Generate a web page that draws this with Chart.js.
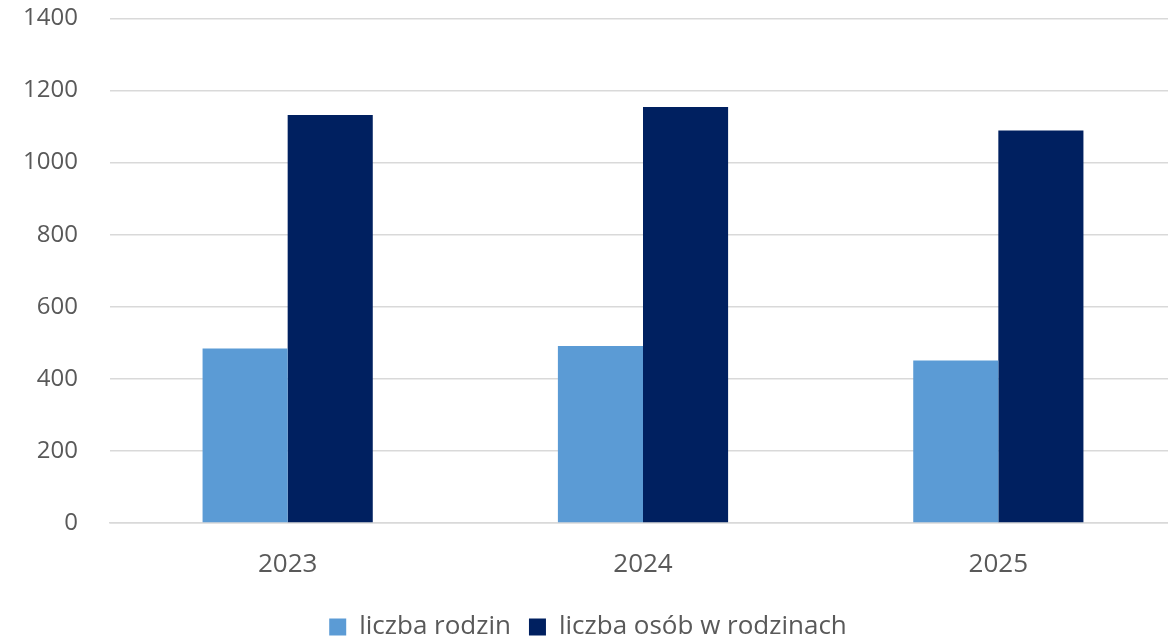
<!DOCTYPE html>
<html>
<head>
<meta charset="utf-8">
<script src="https://cdn.jsdelivr.net/npm/chart.js@4/dist/chart.umd.min.js"></script>
<style>
  html, body { margin: 0; padding: 0; background: #fff; overflow: hidden; }
  #wrap { position: relative; width: 1176px; height: 641px; }
</style>
</head>
<body>
<div id="wrap"><canvas id="chart"></canvas></div>
<script>
const years = ['2023', '2024', '2025'];
const families = [484, 491, 451];
const persons = [1132, 1154, 1089];
const yTicks = [0, 200, 400, 600, 800, 1000, 1200, 1400];

const fontFamily = "'Open Sans', 'Noto Sans', sans-serif";
const textColor = '#595959';

const ctx = document.getElementById('chart').getContext('2d');
new Chart(ctx, {
    type: 'bar',
    data: {
        labels: years,
        datasets: [{
            label: 'liczba rodzin',
            data: families,
            backgroundColor: '#5b9bd5',
            barPercentage: 1,
            categoryPercentage: 0.479
        }, {
            label: 'liczba osób w rodzinach',
            data: persons,
            backgroundColor: '#002060',
            barPercentage: 1,
            categoryPercentage: 0.479
        }]
    },
    options: {
        responsive: true,
        maintainAspectRatio: false,
        animation: false,
        layout: { padding: { top: 0, right: 0, bottom: -9, left: 0 } },
        plugins: {
            tooltip: { enabled: false },
            legend: {
                position: 'bottom',
                labels: {
                    color: textColor,
                    font: { family: fontFamily, size: 26 },
                    boxWidth: 17,
                    boxHeight: 17,
                    padding: 18
                }
            }
        },
        scales: {
            x: {
                afterFit: (scale) => { scale.height = 73; },
                grid: { display: false, drawTicks: false },
                border: { display: true, color: '#d9d9d9', width: 1.5 },
                ticks: {
                    color: textColor,
                    font: { family: fontFamily, size: 26 },
                    padding: 26
                }
            },
            y: {
                min: 0,
                max: 1400,
                afterFit: (scale) => { scale.width = 110; },
                afterBuildTicks: (scale) => {
                    scale.ticks = yTicks.map(v => ({ value: v }));
                },
                grid: {
                    color: '#d9d9d9',
                    lineWidth: 1.5,
                    drawTicks: true,
                    tickLength: 28,
                    tickColor: 'rgba(0,0,0,0)'
                },
                border: { display: false },
                ticks: {
                    color: textColor,
                    font: { family: fontFamily, size: 24 },
                    padding: 4,
                    callback: (v) => String(v)
                }
            }
        }
    }
});
</script>
</body>
</html>
